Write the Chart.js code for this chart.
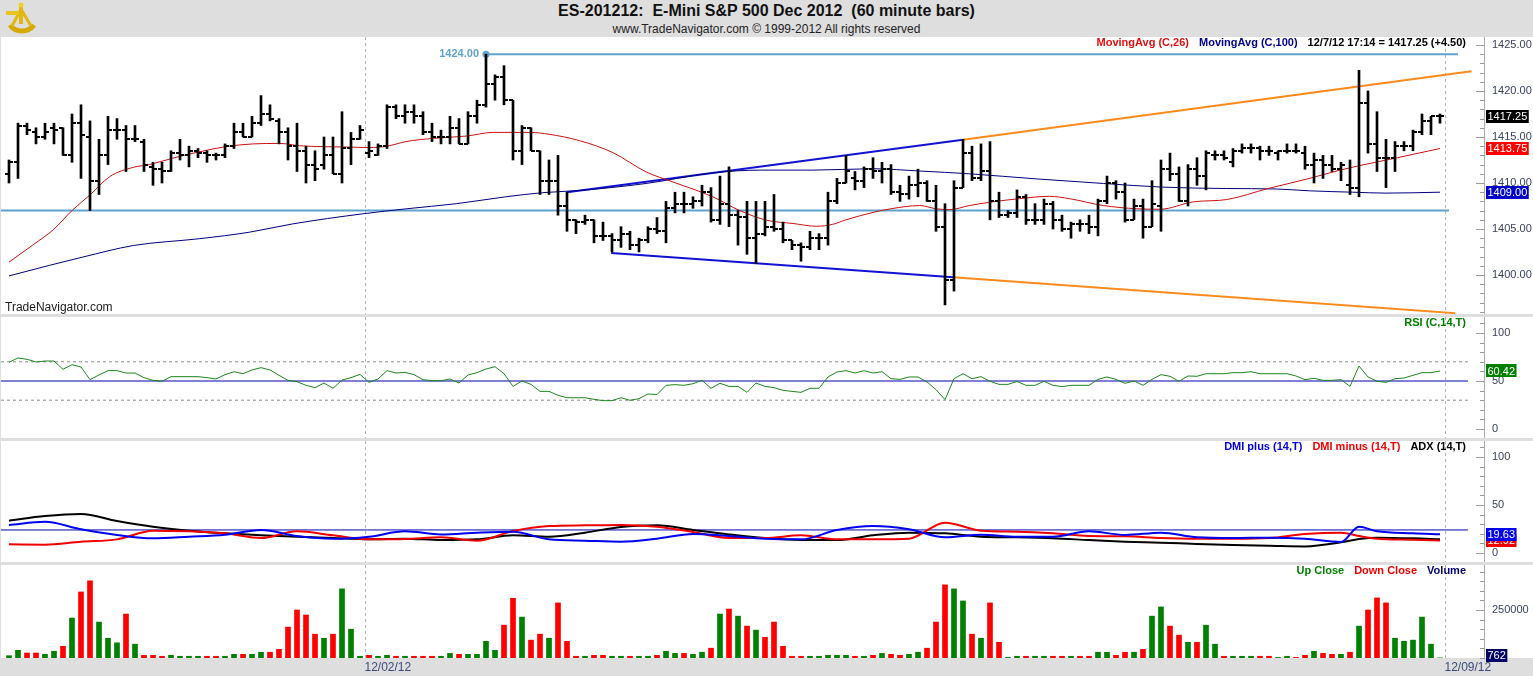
<!DOCTYPE html>
<html>
<head>
<meta charset="utf-8">
<title>ES-201212 60 minute bars</title>
<script src="https://cdn.jsdelivr.net/npm/chart.js@4.4.1/dist/chart.umd.min.js"></script>
<style>
  html, body { margin: 0; padding: 0; }
  body { width: 1533px; height: 676px; background: #dedede; position: relative; overflow: hidden;
         font-family: "Liberation Sans", Arial, sans-serif; }
  #title { position: absolute; left: 0; top: 2px; width: 1533px; text-align: center;
           font-weight: bold; font-size: 16px; white-space: pre; color: #111; }
  #sub { position: absolute; left: 0; top: 22px; width: 1533px; text-align: center; font-size: 12px; color: #222; }
  #logo { position: absolute; left: 2px; top: 1px; }
  .pane { position: absolute; left: 1px; }
</style>
</head>
<body>
<svg id="logo" width="36" height="36">
  <path d="M8 24 A15 15 0 0 0 32 24" fill="none" stroke="#d4aa00" stroke-width="5"/>
  <path d="M19 8 L10 25 M19 8 L29 25" stroke="#e0b810" stroke-width="3"/>
  <rect x="17" y="3" width="4" height="20" fill="#e0b810"/>
  <rect x="4" y="10" width="13" height="4" fill="#e8c420"/>
  <circle cx="19" cy="4" r="2.5" fill="#f0cf30"/>
</svg>
<div id="title">ES-201212:  E-Mini S&amp;P 500 Dec 2012  (60 minute bars)</div>
<div id="sub">www.TradeNavigator.com © 1999-2012 All rights reserved</div>
<canvas class="pane" id="price" width="1532" height="277" style="top:37px"></canvas>
<canvas class="pane" id="rsi" width="1532" height="121" style="top:317px"></canvas>
<canvas class="pane" id="dmi" width="1532" height="121" style="top:441px"></canvas>
<canvas class="pane" id="vol" width="1532" height="111" style="top:565px"></canvas>
<script>
// ---- data (160 hourly bars) ----
const opens = [1411,1412.25,1416.25,1415.5,1415,1416,1416,1413,1416.5,1415,
 1410.25,1413,1415.75,1415.75,1414.75,1414.5,1411.75,1411.5,1411.25,1413.25,
 1413,1413.5,1413.25,1413,1413,1414,1415.5,1415,1416.5,1417.5,
 1416.75,1415.5,1414,1413.5,1412,1412,1413,1411,1413.75,1414.75,
 1413.25,1413,1414,1418.25,1417.25,1417.75,1417.25,1415.5,1415,1415,
 1416,1414.25,1417.25,1418.5,1420.75,1421.5,1419,1413.5,1416,1413.5,
 1410.25,1410.25,1407.5,1406,1405.75,1406,1404.25,1404.25,1403.75,1404.5,
 1403.25,1403.75,1405,1404.75,1407.25,1407.75,1407.75,1408,1409,1406,
 1407.75,1406.5,1406.25,1404,1404.5,1405.25,1405,1403.75,1403.25,1403,
 1404,1404,1408,1410,1410.5,1410.25,1411.5,1411.25,1411.5,1409,
 1408.75,1409.75,1410,1408,1405.25,1399.5,1409.5,1413.25,1410.5,1411.25,
 1408,1406.5,1406.75,1408.5,1406,1406,1407.75,1406,1405,1405.5,
 1405.5,1405.25,1408,1410,1409,1406,1407.5,1405.25,1407.5,1411.5,
 1411,1408,1411.5,1410.75,1413,1413,1412.25,1413.5,1413.75,1413.75,
 1413.5,1413.25,1413.5,1413.5,1413.25,1412,1412.5,1412,1411.5,1409.75,
 1409.5,1418.75,1414.25,1412.75,1412.75,1414,1414,1415.5,1416.75,1417.25];
const highs = [1412.5,1416.5,1416.5,1416,1416.5,1416.5,1416,1417.5,1418.5,1416.75,
 1414.75,1417.25,1417,1416.25,1416.25,1414.75,1412.25,1412.25,1413.5,1414.75,
 1414,1413.75,1413.5,1413.25,1414.25,1416.5,1416.5,1417.25,1419.5,1418.5,
 1417,1416,1416.5,1414,1413.5,1415,1415,1417.75,1415.5,1416.25,
 1414.5,1414.25,1418.5,1418.5,1418.5,1418.5,1417.75,1416.5,1415.75,1417.25,
 1417,1417.75,1419,1424,1421.75,1422.75,1419,1416.25,1416,1413.5,
 1412.5,1413,1409,1406,1406.5,1406,1405.75,1404.5,1405.25,1404.75,
 1404,1405.25,1406.25,1408,1409,1409,1408.5,1409.75,1409.5,1410.75,
 1411.75,1407,1408,1408,1408,1408.75,1405.75,1403.75,1403.5,1404.75,
 1404.5,1409,1410.5,1413,1411.25,1411.75,1412.75,1412.25,1412,1409.75,
 1410.75,1411.5,1410.25,1409.75,1407.75,1410.25,1414.75,1414,1414.25,1414.5,
 1409,1407,1409.25,1408.75,1407.75,1408.25,1408,1406.5,1405.75,1406,
 1406.5,1408.25,1410.75,1410.25,1410,1408.25,1408.25,1410.25,1412.5,1413.25,
 1411.75,1412,1412.75,1413.5,1413.5,1413.5,1413.75,1414.25,1414.25,1414,
 1414,1413.5,1414.25,1414.25,1414,1413.25,1413,1413,1412.25,1412.5,
 1422.25,1420,1417.75,1414.75,1414.5,1414.5,1415.75,1417.5,1417.25,1417.5];
const lows = [1410,1410.5,1415.25,1414.25,1414.75,1414.25,1413,1412.25,1410.5,1407,
 1408.75,1412,1414.75,1411.25,1414.5,1411.25,1409.75,1410,1411.25,1412.5,
 1411.75,1412.75,1412.25,1412.5,1412.75,1413.75,1415,1415,1416.25,1416.75,
 1414.25,1412.5,1411.25,1410,1410.25,1411.5,1411,1410,1412,1414.75,
 1412.75,1413,1413.75,1417,1416.5,1416.5,1415.25,1414.5,1414.25,1414.25,
 1414.25,1414.25,1416.5,1418.25,1419,1418.5,1412.5,1412,1413.5,1408.75,
 1408.75,1406.5,1404.75,1404.5,1405.5,1403.5,1403.75,1402.5,1403,1402.75,
 1402.5,1403.5,1404.5,1403.5,1406.75,1406.75,1407.25,1407.5,1405.75,1405.5,
 1405.25,1403.25,1402.25,1401.25,1404.25,1404.75,1403.5,1402.75,1401.5,1402.75,
 1402.75,1403.25,1407.75,1410,1409.25,1409.5,1410.5,1410,1408.75,1408,
 1408.25,1408.5,1408,1404.75,1396.75,1398.25,1409.5,1410.25,1410.25,1406,
 1406.25,1406.25,1406.25,1405.5,1405.5,1405.5,1405,1404.75,1404,1404.75,
 1404.5,1404.25,1407.75,1408.25,1405.75,1406,1404,1405.25,1404.75,1410.25,
 1408,1407.5,1409.75,1409.25,1412.5,1412.5,1411.75,1413.25,1413.25,1412.5,
 1413,1412.5,1413.25,1413.25,1411.5,1410,1410.5,1411.25,1410.25,1408.75,
 1408.5,1413.25,1411.25,1409.5,1411.25,1413.5,1413.5,1415.25,1415.25,1416.5];
const closes = [1412.25,1416.25,1415.75,1415,1415.5,1415.75,1413,1416.5,1415.25,1410.25,
 1413,1415.75,1415.75,1414.75,1414.75,1412,1411.5,1411.25,1413.25,1413,
 1413.5,1413.25,1413,1413,1414,1415.5,1415,1416.5,1417.5,1417,
 1415.5,1414,1413.5,1412,1411.5,1413,1411,1413.75,1414.75,1415.75,
 1413.5,1414,1418.25,1417.25,1417.75,1417.25,1415.5,1415,1415,1416,
 1414.25,1417.25,1418.5,1420.75,1421.5,1419,1413.5,1416,1413.5,1410.25,
 1410.25,1407.5,1406,1405.75,1406,1404.25,1404.25,1403.75,1404.5,1403.25,
 1403.75,1405,1404.75,1407.25,1407.75,1407.75,1408,1409,1406,1407.75,
 1406.5,1406.25,1404,1404.5,1405.25,1405,1403.75,1403.25,1403,1404,
 1404,1408,1410,1411.25,1410.25,1411.5,1411.25,1411.5,1409,1408.75,
 1409.75,1410,1408,1405.25,1399.5,1409.5,1413.25,1410.5,1411.25,1408,
 1406.5,1406.75,1408.5,1406,1406,1407.75,1406,1405,1405.5,1405.5,
 1405.25,1408,1410,1409,1406,1407.5,1405.25,1407.75,1411.5,1411,
 1408,1411.5,1410.75,1413.25,1413,1412.75,1413.5,1413.75,1413.75,1413.5,
 1413.5,1413.5,1413.5,1413.5,1412,1412.5,1412,1411.5,1412,1409.5,
 1418.75,1414.25,1412.75,1412.75,1414,1414,1415.5,1416.75,1417.25,1417.25];

// moving averages, read at points along the curves (bar index, price)
const ma26X = [0,2.7,4.9,7.1,9,11.2,13.8,15.6,18.2,21.2,24.1,27.1,30.1,32.3,35,38,40,42,44.1,47.1,50.8,53.8,57.9,60,63.4,67.1,70.8,73.8,78.2,81.2,84.2,87.1,89.7,91.5,93,96.2,98,101.2,103,104.5,106.7,109.3,112.3,115.6,117.8,121.6,125.3,127.9,131.6,135.3,139.9,144.3,147.9,150.1,153.8,159];
const ma26Y = [1401.4,1403.3,1404.9,1407.1,1408.7,1410.7,1411.7,1412,1412.7,1413.4,1413.95,1414.25,1414.3,1414.05,1413.95,1413.9,1413.85,1414,1414.5,1414.85,1415.1,1415.5,1415.5,1415.3,1414.6,1413.3,1411.2,1410.1,1408.5,1407,1405.95,1405.6,1405.3,1405.5,1406,1406.85,1407.2,1407.55,1407.2,1407.1,1407.55,1407.95,1408.3,1408.55,1408.3,1407.55,1407.2,1407.15,1407.95,1408.2,1409.4,1410.45,1411.4,1411.9,1412.65,1413.75];
const ma100X = [0,4.5,8.2,13.8,21.2,26.7,31.5,39.3,44.2,49.7,55.2,59.3,63.6,70.8,78.2,83.6,89.3,96,101.2,106.7,114.1,121.6,128.2,135.3,140.8,144.5,149.3,153,159];
const ma100Y = [1399.9,1401.05,1401.95,1403.2,1403.95,1404.65,1405.55,1406.65,1407.2,1407.75,1408.5,1408.95,1409.2,1409.95,1411.1,1411.4,1411.4,1411.55,1411.3,1411,1410.45,1409.95,1409.55,1409.4,1409.35,1409.15,1409,1408.9,1409];

// drawn levels and channel (bar index, price)
const highLevelX = [53, 161], highLevelY = [1424, 1424];
const lowLevelX = [-0.9, 160], lowLevelY = [1407, 1407];
const upperChanX = [62, 106], upperChanY = [1409, 1414.7];
const upperExtX = [106, 162.5], upperExtY = [1414.7, 1422.15];
const lowerChanX = [66.9, 104.9], lowerChanY = [1402.4, 1399.75];
const lowerExtX = [104.9, 160.7], lowerExtY = [1399.75, 1395.85];

const rsi = [69.5,74,72.6,69.8,70.8,70.8,62.2,67,64.6,51.4,
 56.3,60.8,60.8,58.3,58.3,53.5,50.7,49.7,54.5,54.5,
 54.5,54.5,53.5,52.1,56.6,59.7,57.6,61.5,63.9,61.5,
 55.9,50.7,49.3,45.5,43.1,47.9,42.4,51,53.5,56.9,
 48.6,52.1,60.8,58.3,59,56.6,51.4,50.3,50.3,52.1,
 47.9,56.3,58.7,62.5,64.9,57.6,44.4,50,46.5,39.2,
 39.2,35.1,32.6,32.6,32.6,30.9,29.5,29.5,32.6,29.9,
 31.6,36.5,35.8,45.5,46.2,45.5,47.2,50.7,42.4,47.6,
 44.4,44.4,38.2,47.9,44.4,43.1,40.3,39.2,38.2,42.4,
 42.4,54.2,59.4,60.8,58.3,60.8,58.3,59.7,52.4,51.7,
 54.2,54.2,49,41,30.6,52.4,57.6,52.4,54.5,49.7,
 46.5,46.5,49.5,45.5,45.5,49.7,45.5,44.1,45.5,45.5,
 45.5,51.7,54.2,51.7,47.6,50,45.5,51.7,56.6,54.9,
 49.7,55.2,54.9,57.6,57.6,57.6,58.7,58.7,59.7,57.6,
 57.6,57.6,57.6,55.2,51.4,52.8,50.7,50.7,51.4,44.4,
 65.6,54.2,49.7,48.6,52.4,53.1,55.9,58.7,58.7,60.42];
const rsiLevels = [70, 50, 30];

const dmiX = [0,4,8,12,16,20,24,28,32,36,40,44,48,52,56,60,64,68,72,76,80,84,88,92,96,100,104,108,112,116,120,124,128,132,136,140,144,148,150,152,156,159];
const dmiPlus = [29.2,32.6,24.7,18.8,15.3,17,19.1,24,17.7,14.9,17,22.6,19.4,21.2,22.2,14.2,12.8,11.8,14.9,19.8,17.7,14.9,14.2,24,28.1,24.7,16.3,19.1,17,17,22.6,18.8,21.2,16.3,15.6,16,14.9,11.5,27.4,22.6,20.5,19.63];
const dmiMinus = [9,8.7,11.8,14.2,23.3,22.6,20.5,15.6,22.6,18.4,14.2,14.6,16.3,12.8,22.9,28.1,28.8,29.2,27.4,21.9,15.6,15.6,18.4,14.2,14.2,14.9,31.6,23.3,22.2,20.5,17.7,17.4,15.6,14.9,14.9,15.6,19.8,21.2,17.7,14.9,13.9,12.92];
const adx = [33.7,38.5,40.6,33.3,27.4,23.3,20.5,18.4,17,15.6,14.2,14.9,13.5,14.2,18.4,17,21.2,27.1,28.8,24,19.4,15.6,13.5,13.5,18.4,21.2,20.5,17,16.3,15.3,13.5,11.8,10.8,9.4,8.3,7.6,6.9,11.1,14.6,16,15.3,14.2];
const dmiLevel = 24;

const volume = [12000,40000,26000,26000,19000,35000,61000,208000,344000,402000,
 187000,103000,79000,229000,72000,14000,14000,9000,14000,9000,
 9000,9000,9000,9000,9000,19000,19000,19000,30000,30000,
 45000,161000,250000,224000,124000,103000,124000,360000,150000,9000,
 14000,9000,14000,9000,9000,9000,9000,9000,9000,24000,
 19000,19000,19000,87000,40000,171000,311000,213000,93000,124000,
 103000,287000,87000,9000,9000,14000,14000,9000,9000,9000,
 9000,9000,14000,35000,24000,24000,19000,30000,51000,229000,
 255000,218000,166000,145000,108000,187000,61000,9000,9000,9000,
 9000,14000,14000,14000,9000,9000,14000,24000,19000,14000,
 19000,30000,51000,187000,381000,360000,297000,124000,103000,287000,
 82000,3000,9000,9000,9000,9000,9000,9000,9000,9000,
 9000,30000,30000,14000,30000,30000,45000,218000,266000,166000,
 119000,82000,82000,171000,72000,9000,9000,9000,9000,9000,
 9000,3000,9000,3000,14000,35000,24000,19000,19000,30000,
 166000,250000,313000,287000,103000,87000,93000,213000,72000,762];
const volDir = ('UUDDUUDUDD' + 'UUUDUDDDUU' + 'UUDDUUDUUD' + 'DDDDDUDUUU' + 'DUUDUDDDUU' +
  'DUUUUDDUDD' + 'UDDDUDDUUD' + 'UUDUUDUUDU' + 'DUDUDDDDDU' + 'UUUUDUDUDD' +
  'UUDDDUUDUD' + 'DUUDUUDDUD' + 'DUUDDUDUUD' + 'DUDUUDUUUD' + 'DUUDDUDDUD' + 'UDDDUUUUUU').split('');

const priceTicks = [1400, 1405, 1410, 1415, 1420, 1425];
const oscTicks = [0, 50, 100];
const volTicks = [250000];
const dateLineX = [39.5, 159.5];
const dateLabels = ['12/02/12', '12/09/12'];

// ---- layout helpers ----
const FONT = '"Liberation Sans", Arial, sans-serif';
// bar i sits at canvas x = 8 + 9*i; plot area covers canvas x 0..1483
const X_MIN = -8 / 9;
const X_MAX = 1475 / 9;
const idx = closes.map((_, i) => i);
const pts = (xs, ys) => xs.map((x, i) => ({ x: x, y: ys[i] }));

function tickImg(left) {
  const c = document.createElement('canvas');
  c.width = 8; c.height = 2;
  const g = c.getContext('2d');
  g.fillStyle = '#000';
  g.fillRect(left ? 0 : 4, 0, 4, 2);
  return c;
}

function line(data, color, width, extra) {
  return Object.assign({ type: 'line', data: data, borderColor: color, borderWidth: width,
    pointRadius: 0, fill: false, order: 2 }, extra || {});
}

function makePanel(cfg) {
  return {
    id: 'panel',
    beforeDraw(chart) {
      const { ctx, chartArea: a, width, height } = chart;
      ctx.save();
      ctx.fillStyle = '#fff';
      ctx.fillRect(0, 0, width, a.bottom);
      if (a.bottom < height) {
        ctx.fillStyle = '#dedede';
        ctx.fillRect(0, a.bottom, width, height - a.bottom);
      }
      ctx.restore();
    },
    beforeDatasetsDraw(chart) {
      const { ctx, chartArea: a, scales: { x } } = chart;
      ctx.save();
      ctx.strokeStyle = '#b4b4b4'; ctx.lineWidth = 1; ctx.setLineDash([3, 3]);
      dateLineX.forEach(v => {
        const px = Math.round(x.getPixelForValue(v)) + 0.5;
        ctx.beginPath(); ctx.moveTo(px, a.top); ctx.lineTo(px, a.bottom); ctx.stroke();
      });
      ctx.restore();
    },
    afterDraw(chart) {
      const { ctx, chartArea: a, scales: { y } } = chart;
      ctx.save();
      // axis tick marks point into the plot
      ctx.strokeStyle = '#999'; ctx.lineWidth = 1;
      for (let k = Math.ceil(y.min / cfg.minor); k <= Math.floor(y.max / cfg.minor); k++) {
        const v = k * cfg.minor;
        const len = cfg.major.includes(v) ? 8 : 4;
        const py = Math.round(y.getPixelForValue(v)) + 0.5;
        ctx.beginPath(); ctx.moveTo(a.right - len, py); ctx.lineTo(a.right, py); ctx.stroke();
      }
      // legend, right aligned at the top of the pane
      ctx.font = 'bold 11px ' + FONT; ctx.textBaseline = 'middle'; ctx.textAlign = 'right';
      let tx = a.right - 18;
      for (let i = cfg.legend.length - 1; i >= 0; i--) {
        ctx.fillStyle = cfg.legend[i][1];
        ctx.fillText(cfg.legend[i][0], tx, a.top + 6);
        tx -= ctx.measureText(cfg.legend[i][0]).width + 10;
      }
      // last value boxes on the axis
      ctx.font = '11px ' + FONT; ctx.textAlign = 'left';
      cfg.boxes.forEach(b => {
        const t = b[0].toFixed(cfg.decimals);
        const w = ctx.measureText(t).width + 3;
        let py = y.getPixelForValue(b[0]);
        py = Math.min(Math.max(py, a.top + 7), a.bottom - 3);
        ctx.fillStyle = b[1];
        ctx.fillRect(a.right + 2, Math.round(py - 6.5), w, 13);
        ctx.fillStyle = '#fff';
        ctx.fillText(t, a.right + 3.5, py + 0.5);
      });
      if (cfg.extra) cfg.extra(chart);
      ctx.restore();
    }
  };
}

function options(yMin, yMax, yTicks, fmt, xAxis) {
  return {
    responsive: false, animation: false, events: [],
    layout: { autoPadding: false, padding: 0 },
    plugins: { legend: { display: false }, tooltip: { enabled: false } },
    scales: {
      x: xAxis || { type: 'linear', min: X_MIN, max: X_MAX, offset: false, display: false },
      y: {
        position: 'right', min: yMin, max: yMax,
        afterBuildTicks: s => { s.ticks = yTicks.map(v => ({ value: v })); },
        afterFit: s => { s.width = 49; s.paddingTop = 0; s.paddingBottom = 0; },
        grid: { display: false, drawTicks: false },
        border: { display: true, color: '#a9a9a9' },
        ticks: { padding: 8, color: '#37425f', font: { size: 11, family: FONT }, callback: v => fmt(v) }
      }
    }
  };
}

// ---- price pane ----
new Chart(document.getElementById('price'), {
  type: 'bar',
  data: { datasets: [
    { type: 'bar', data: idx.map(i => ({ x: i, y: [lows[i], highs[i]] })), backgroundColor: '#000',
      barThickness: 2, grouped: false, borderWidth: 0, order: 0 },
    { type: 'line', data: pts(idx, opens), showLine: false, pointStyle: tickImg(true), pointRadius: 2, order: 0 },
    { type: 'line', data: pts(idx, closes), showLine: false, pointStyle: tickImg(false), pointRadius: 2, order: 0 },
    line(pts(ma26X, ma26Y), '#d01010', 1, { cubicInterpolationMode: 'monotone', order: 1 }),
    line(pts(ma100X, ma100Y), '#000080', 1, { cubicInterpolationMode: 'monotone', order: 1 }),
    line(pts(highLevelX, highLevelY), '#5ea3cd', 2, { pointRadius: [3.5, 0], pointBackgroundColor: '#5ea3cd', pointBorderWidth: 0 }),
    line(pts(lowLevelX, lowLevelY), '#5ea3cd', 2),
    line(pts(upperChanX, upperChanY), '#1212d2', 2),
    line(pts(upperExtX, upperExtY), '#ff8a1c', 2),
    line(pts(lowerChanX, lowerChanY), '#1212d2', 2),
    line(pts(lowerExtX, lowerExtY), '#ff8a1c', 2)
  ] },
  options: options(1395.76, 1425.87, priceTicks, v => v.toFixed(2)),
  plugins: [makePanel({
    minor: 1, major: priceTicks, decimals: 2,
    legend: [['MovingAvg (C,26)', '#e01010'], ['MovingAvg (C,100)', '#000090'],
             ['12/7/12 17:14 = 1417.25 (+4.50)', '#000']],
    boxes: [[closes[closes.length - 1], '#000'], [ma26Y[ma26Y.length - 1], '#ff0000'],
            [ma100Y[ma100Y.length - 1], '#0000c8']],
    extra(chart) {
      const { ctx, chartArea: a, scales: { x, y } } = chart;
      ctx.font = 'bold 11px ' + FONT; ctx.textAlign = 'right'; ctx.textBaseline = 'middle';
      ctx.fillStyle = '#5ea3cd';
      ctx.fillText(highLevelY[0].toFixed(2), x.getPixelForValue(highLevelX[0]) - 7, y.getPixelForValue(highLevelY[0]));
      ctx.font = '12px ' + FONT; ctx.textAlign = 'left'; ctx.fillStyle = '#1a1a1a';
      ctx.fillText('TradeNavigator.com', a.left + 4, a.bottom - 6);
    }
  })]
});

// ---- RSI pane ----
new Chart(document.getElementById('rsi'), {
  type: 'line',
  data: { datasets: [
    line(pts(idx, rsi), '#1e861e', 1, { order: 0 }),
    line(pts([X_MIN, 162.1], [rsiLevels[0], rsiLevels[0]]), '#8c8c8c', 1, { borderDash: [3, 3] }),
    line(pts([X_MIN, 162.1], [rsiLevels[1], rsiLevels[1]]), '#0000b4', 1),
    line(pts([X_MIN, 162.1], [rsiLevels[2], rsiLevels[2]]), '#8c8c8c', 1, { borderDash: [3, 3] })
  ] },
  options: options(-9.375, 116.67, oscTicks, v => String(v)),
  plugins: [makePanel({
    minor: 10, major: oscTicks, decimals: 2,
    legend: [['RSI (C,14,T)', '#008000']],
    boxes: [[rsi[rsi.length - 1], '#008000']]
  })]
});

// ---- DMI / ADX pane ----
new Chart(document.getElementById('dmi'), {
  type: 'line',
  data: { datasets: [
    line(pts(dmiX, dmiPlus), '#0000f0', 2, { cubicInterpolationMode: 'monotone', order: 0 }),
    line(pts(dmiX, dmiMinus), '#f00000', 2, { cubicInterpolationMode: 'monotone', order: 1 }),
    line(pts(dmiX, adx), '#000', 2, { cubicInterpolationMode: 'monotone', order: 1 }),
    line(pts([X_MIN, 162.1], [dmiLevel, dmiLevel]), '#0000b4', 1, { order: 3 })
  ] },
  options: options(-9.375, 116.67, oscTicks, v => String(v)),
  plugins: [makePanel({
    minor: 10, major: oscTicks, decimals: 2,
    legend: [['DMI plus (14,T)', '#0000e0'], ['DMI minus (14,T)', '#f00000'], ['ADX (14,T)', '#000']],
    boxes: [[dmiMinus[dmiMinus.length - 1], '#f00000'], [dmiPlus[dmiPlus.length - 1], '#0000f0']]
  })]
});

// ---- volume pane ----
const upVol = idx.map(i => ({ x: i, y: volDir[i] === 'U' ? volume[i] : null }));
const downVol = idx.map(i => ({ x: i, y: volDir[i] === 'D' ? volume[i] : null }));
new Chart(document.getElementById('vol'), {
  type: 'bar',
  data: { datasets: [
    { label: 'Up Close', data: upVol, backgroundColor: '#008000', barThickness: 5, grouped: false, borderWidth: 0 },
    { label: 'Down Close', data: downVol, backgroundColor: '#ff0000', barThickness: 5, grouped: false, borderWidth: 0 }
  ] },
  options: options(0, 484375, volTicks, v => String(v), {
    type: 'linear', min: X_MIN, max: X_MAX, offset: false, position: 'bottom',
    afterBuildTicks: s => { s.ticks = dateLineX.map(v => ({ value: v })); },
    afterFit: s => { s.height = 18; s.paddingLeft = 0; s.paddingRight = 0; },
    grid: { display: false, drawTicks: false },
    border: { display: false },
    ticks: { align: 'start', padding: 2, maxRotation: 0, minRotation: 0, autoSkip: false,
             color: '#3b4a7a', font: { size: 12, family: FONT }, callback: (v, i) => dateLabels[i] }
  }),
  plugins: [makePanel({
    minor: 50000, major: volTicks, decimals: 0,
    legend: [['Up Close', '#008000'], ['Down Close', '#f00000'], ['Volume', '#000070']],
    boxes: [[volume[volume.length - 1], '#000066']]
  })]
});
</script>
</body>
</html>
